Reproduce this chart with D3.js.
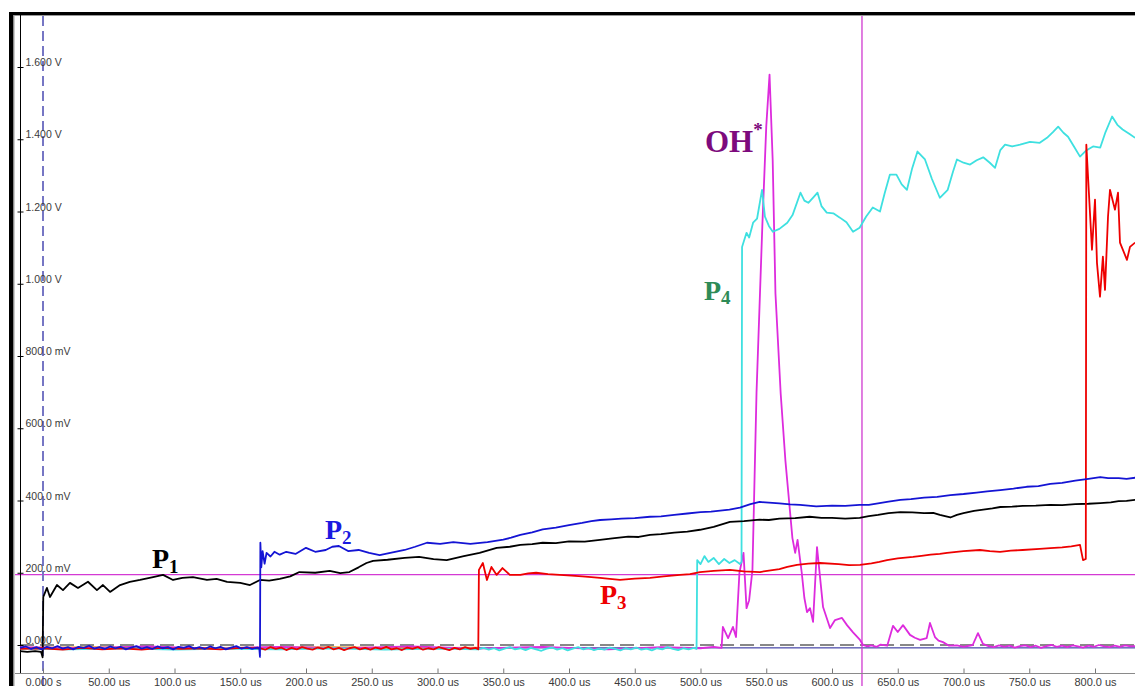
<!DOCTYPE html>
<html>
<head>
<meta charset="utf-8">
<script src="https://cdn.jsdelivr.net/npm/d3@7"></script>
<style>
    body { margin: 0; background: #fff; }
    svg { display: block; }
    .tick text { font-family: "Liberation Sans", Arial, sans-serif; fill: #3a3a3a; }
    .lbl { font-family: "Liberation Serif", "Times New Roman", serif; font-weight: bold; }
</style>
</head>
<body>
<svg id="chart" width="1135" height="686"></svg>
<script>
// time in us, signal in mV
var yTicks = [0, 200, 400, 600, 800, 1000, 1200, 1400, 1600];
var yTickLabels = ["0.000 V", "200.0 mV", "400.0 mV", "600.0 mV", "800.0 mV", "1.000 V", "1.200 V", "1.400 V", "1.600 V"];
var xTicks = [0, 50, 100, 150, 200, 250, 300, 350, 400, 450, 500, 550, 600, 650, 700, 750, 800];
var xTickLabels = ["0.000 s", "50.00 us", "100.0 us", "150.0 us", "200.0 us", "250.0 us", "300.0 us", "350.0 us",
    "400.0 us", "450.0 us", "500.0 us", "550.0 us", "600.0 us", "650.0 us", "700.0 us", "750.0 us", "800.0 us"];

var triggerLevel = 195;   // mV, magenta horizontal
var cursorTime = 622.8;   // us, magenta vertical
var zeroMarker = -8;      // mV, navy channel marker
var zeroLevel = 0;        // mV, dashed

var p1 = [[-17.5,-17],[-12,-19],[-6,-17],[-1.5,-19],[-0.3,-34],[0.2,133],[3,158],[5.3,133],[10.6,166],[15.2,152],
    [20.5,172],[26.6,158],[34.2,175],[41,152],[45.6,166],[51,147],[58.6,166],[66,175],[73.8,180],[83.7,188],
    [91.3,194],[98.9,180],[106,186],[114,188],[124.7,180],[132,183],[140,175],[150,172],[157.4,166],[165,180],
    [172,178],[180,183],[188,190],[195,202],[207,200],[218,205],[226,199],[233,202],[240,215],[246,227],
    [251,233],[262,236],[275,241],[286,244],[297,238],[307,235],[320,246],[332,255],[345,269],[355,272],[363,277],
    [372,279],[380,283],[390,282],[400,287],[412,286],[423.6,291],[433,295],[445,300],[453,299],[461.6,305],
    [470,307],[480,311],[490,314],[499.6,319],[510,327],[522.4,341],[533,343],[545,347],[552,346],[560,350],
    [572,351],[583,355],[592,352],[600,352],[610,350],[621,352],[628,357],[635,360],[643,365],[652,368],
    [661,367],[670,365],[677,366],[682,360],[690,353],[695,360],[700,365],[708,371],[715,375],[722,378],
    [728,382],[737,383],[745,385],[755,386],[766,388],[775,387],[785,390],[795,391],[804,393],[812,395],
    [818,398],[824,399],[830.5,402]];

var p2 = [[-17.5,-8],[-13,-4],[-9,-11],[-5,-6],[-1,-12],[3,-5],[7,-9],[11,-3],[15,-10],[19,-6],[23,-12],[27,-5],
    [31,-8],[35,-2],[39,-10],[43,-6],[47,-11],[51,-4],[55,-9],[59,-5],[63,-12],[67,-7],[71,-3],[75,-10],[79,-6],
    [83,-11],[87,-4],[91,-9],[95,-6],[99,-12],[103,-5],[107,-8],[111,-3],[115,-10],[119,-6],[123,-11],[127,-4],
    [131,-9],[135,-5],[139,-12],[143,-7],[147,-3],[151,-10],[155,-6],[159,-11],[163,-7],[164.5,-10],
    [165,-33],[165.3,283],[166,215],[167,260],[168.5,225],[170,255],[173,245],[176,258],[180,250],[185,258],
    [192,252],[200,269],[207,258],[215,263],[220,272],[225,274],[232,260],[240,263],[248,255],[256,249],
    [265,256],[275,263],[283,272],[292,283],[302,280],[312,285],[325,280],[338,285],[350,292],[356,297],
    [363,305],[372,312],[380,320],[390,325],[400,332],[410,338],[417,343],[423.6,346],[432,348],[440,350],
    [450,351],[461.6,355],[470,356],[480,360],[490,364],[500,368],[508,369],[515,372],[522,375],[530,380],
    [538,390],[545,396],[552,394],[560,392],[568,389],[575.7,388],[588,384],[600,386],[610,385],[621,388],
    [628,388],[635,392],[643,397],[652,402],[660,404],[670,408],[680,410],[690,415],[700,418],[710,422],
    [718,425],[728,429],[738,433],[748,438],[757,440],[766,446],[775,449],[785,455],[795,460],[804,465],
    [810,462],[818,462],[824,460],[830.5,463]];

var p3 = [[-17.5,-11],[0,-9],[15,-13],[30,-8],[45,-12],[60,-9],[75,-13],[90,-8],[105,-11],[120,-9],[135,-12],
    [150,-8],[165,-9],[169,-13],[173,-6],[177,-11],[181,-7],[185,-14],[189,-8],[193,-12],[197,-6],[201,-10],
    [205,-13],[209,-7],[213,-11],[217,-5],[221,-12],[225,-8],[229,-14],[233,-9],[237,-6],[241,-12],[245,-8],
    [249,-13],[253,-7],[257,-11],[261,-5],[265,-12],[269,-9],[273,-14],[277,-7],[281,-11],[285,-6],[289,-13],
    [293,-9],[297,-12],[301,-6],[305,-10],[309,-14],[313,-8],[317,-12],[321,-6],[325,-11],[329,-8],[331,-12],
    [331.5,208],[334.5,227],[337.6,180],[341,216],[345,194],[349.4,213],[355,194],[363,194],[369,198],[375,200],
    [384,196],[393,194],[402,192],[410,190],[417,188],[423.6,186],[431,183],[438.8,180],[450,184],[461.6,186],
    [472,190],[484.4,194],[492,196],[499.6,202],[510,205],[522.4,208],[533,204],[545.2,202],[552,206],[560,210],
    [566,216],[573.4,222],[582,225],[590.9,227],[605,224],[613,221],[621.3,222],[630,226],[636,230],[641.8,235],
    [650,240],[661.6,244],[668,247],[675,250],[682,252],[687.5,255],[700,260],[712.5,263],[720,260],[727.8,258],
    [736,261],[745,263],[758,266],[766,268],[775,270],[782,273],[788.6,277],[790.9,235],[793,238],[793.4,1385],
    [794.7,1296],[797.7,1094],[800,1233],[801.5,1058],[803.8,964],[806,1075],[807.6,983],[809.9,1186],
    [811.4,1260],[815.2,1205],[817.5,1252],[819,1114],[824.3,1066],[826.6,1102],[830.5,1114]];

var p4 = [[-17.5,-10],[20,-12],[60,-9],[100,-13],[140,-10],[180,-12],[220,-9],[260,-13],[300,-10],[331,-12],
    [335,-8],[339,-13],[343,-9],[347,-15],[351,-10],[355,-6],[359,-12],[363,-9],[367,-14],[371,-8],[375,-12],
    [379,-16],[383,-10],[387,-7],[391,-13],[395,-9],[399,-15],[403,-10],[407,-6],[411,-12],[415,-8],[419,-14],
    [423,-10],[427,-13],[431,-7],[435,-11],[439,-15],[443,-9],[447,-12],[451,-7],[455,-13],[459,-10],[463,-15],
    [467,-9],[471,-12],[475,-6],[479,-11],[483,-14],[487,-9],[491,-12],[495,-8],[497,-11],
    [497.5,235],[500,224],[503,246],[506,230],[510,241],[514,224],[518,238],[522,227],[526,235],
    [530,224],[531.2,230],[531.6,1102],[535,1141],[537,1128],[540,1169],[543,1180],[546.8,1260],[549,1186],
    [552,1160],[555,1144],[560,1152],[566,1169],[570,1190],[576,1252],[579,1230],[582,1224],[586,1240],
    [589,1252],[592,1215],[596,1197],[601,1195],[606,1183],[611,1170],[616,1144],[621,1155],[626,1186],
    [631,1211],[636.5,1200],[640,1250],[644,1302],[649,1302],[653,1275],[657,1260],[661,1320],[665,1366],
    [670.7,1344],[676,1290],[682,1238],[688,1260],[692,1310],[695,1344],[700,1335],[705,1330],[710,1342],
    [715,1350],[720,1335],[724,1321],[728,1370],[731.6,1385],[737,1380],[743,1385],[750.6,1393],[758,1390],
    [763.5,1404],[768,1420],[772,1435],[776,1418],[779.5,1407],[784,1380],[788.6,1352],[793,1368],[798.5,1380],
    [804,1377],[808,1420],[813,1463],[817,1440],[821,1427],[826,1415],[830.5,1404]];

var oh = [[-17.5,-6],[30,-9],[80,-4],[130,-10],[180,-5],[230,-9],[280,-4],[330,-10],[380,-5],[430,-12],
    [470,-6],[500,-9],[510,-5],[516,-8],[517,50],[521,19],[524.7,50],[527,22],[529.6,200],[532.7,255],
    [535,102],[537,124],[539.5,208],[542.6,698],[547,1158],[550,1435],[552.5,1579],[554.9,1341],[557,973],
    [561,695],[564.6,509],[569.9,296],[572,255],[573.8,291],[577,200],[579,130],[581,91],[583.3,102],
    [585.6,64],[588.6,271],[593.2,105],[598.5,47],[602.3,69],[607.6,75],[611.4,55],[616,35],[621.3,14],
    [623.6,0],[627,-4],[630,-1],[634,-5],[637,1],[642,-2],[646.4,53],[650,36],[654,55],[659.3,28],[663,20],
    [667,14],[672,19],[674.5,61],[678.3,22],[681,12],[684.4,8],[689,-2],[695,-1],[700,-5],[707,0],[711,33],
    [714.8,3],[719,-3],[723,-6],[727,-1],[731,-5],[735,-2],[739,-7],[743,-3],[747,-1],[751,-6],[755,-2],
    [759,-8],[763,-3],[767,0],[771,-5],[775,-2],[779,-6],[783,-1],[787,-4],[791,-7],[795,-2],[799,-5],
    [803,0],[807,-4],[811,-6],[815,-2],[819,-5],[823,-1],[827,-4],[830.5,-3]];

var aux = [[-17.5,-8],[40,-6],[100,-9],[160,-7],[220,-6],[280,-9],[330,-7]];

var channels = [
    {data: aux, color: "#f0a020"},
    {data: oh, color: "#dd2bdd"},
    {data: p4, color: "#3ee0e0"},
    {data: p1, color: "#000000"},
    {data: p3, color: "#ee0000"},
    {data: p2, color: "#1414d4"}
];

var svg = d3.select("#chart");
var x = d3.scaleLinear().domain([0, 800]).range([43, 1095]);
var y = d3.scaleLinear().domain([0, 1600]).range([645, 67]);

// frame of the scope window
svg.append("rect").attr("x", 9).attr("y", 12).attr("width", 1126).attr("height", 3).attr("fill", "#000");
svg.append("rect").attr("x", 9).attr("y", 12).attr("width", 4.5).attr("height", 674).attr("fill", "#000");
svg.append("line").attr("x1", 14).attr("x2", 1135).attr("y1", 15.5).attr("y2", 15.5).attr("stroke", "#999");
svg.append("line").attr("x1", 14).attr("x2", 14).attr("y1", 15).attr("y2", 686).attr("stroke", "#999");

svg.append("defs").append("clipPath").attr("id", "plot")
    .append("rect").attr("x", 15).attr("y", 16).attr("width", 1120).attr("height", 657);

// reference lines
var refs = svg.append("g");
refs.append("line")
    .attr("x1", 20).attr("x2", 1135).attr("y1", y(zeroMarker)).attr("y2", y(zeroMarker))
    .attr("stroke", "#1e1e96").attr("stroke-width", 1);
refs.append("line")
    .attr("x1", 20).attr("x2", 1135).attr("y1", y(zeroLevel)).attr("y2", y(zeroLevel))
    .attr("stroke", "#111").attr("stroke-width", 1).attr("stroke-dasharray", "14,6");
refs.append("line")
    .attr("x1", 15).attr("x2", 1135).attr("y1", y(triggerLevel)).attr("y2", y(triggerLevel))
    .attr("stroke", "#d43ad4").attr("stroke-width", 1.2);
refs.append("line")
    .attr("x1", x(0)).attr("x2", x(0)).attr("y1", 16).attr("y2", 686)
    .attr("stroke", "#7676c4").attr("stroke-width", 2).attr("stroke-dasharray", "10,5");
refs.append("line")
    .attr("x1", x(cursorTime)).attr("x2", x(cursorTime)).attr("y1", 16).attr("y2", 686)
    .attr("stroke", "#d03ad0").attr("stroke-width", 1.3);

// axes
var yAxis = d3.axisRight(y).tickValues(yTicks).tickSize(3)
    .tickFormat(function (d, i) { return yTickLabels[i]; });
var gy = svg.append("g").attr("transform", "translate(20.5,0)").call(yAxis);
gy.select(".domain").remove();
gy.selectAll(".tick line").attr("x1", -3).attr("stroke", "#000");
gy.selectAll(".tick text").attr("x", 5).attr("dy", -1.5).attr("font-size", 10.5);
svg.append("line").attr("x1", 20.5).attr("x2", 20.5).attr("y1", 15).attr("y2", 673)
    .attr("stroke", "#000").attr("stroke-width", 1);

var xAxis = d3.axisBottom(x).tickValues(xTicks).tickSize(-5)
    .tickFormat(function (d, i) { return xTickLabels[i]; });
var gx = svg.append("g").attr("transform", "translate(0,673.5)").call(xAxis);
gx.select(".domain").remove();
gx.selectAll(".tick line").attr("stroke", "#777");
gx.selectAll(".tick text").attr("y", 12).attr("dy", 0).attr("font-size", 11);
svg.append("line").attr("x1", 15).attr("x2", 1135).attr("y1", 673.5).attr("y2", 673.5)
    .attr("stroke", "#8a8a8a").attr("stroke-width", 1);

// traces
var line = d3.line()
    .x(function (d) { return x(d[0]); })
    .y(function (d) { return y(d[1]); });
var traces = svg.append("g").attr("clip-path", "url(#plot)");
channels.forEach(function (c) {
    traces.append("path")
        .datum(c.data)
        .attr("d", line)
        .attr("fill", "none")
        .attr("stroke", c.color)
        .attr("stroke-width", 1.8)
        .attr("stroke-linejoin", "round");
});

// labels
function subLabel(px, py, main, sub, color, size, subDy) {
    var t = svg.append("text").attr("class", "lbl")
        .attr("x", px).attr("y", py).attr("fill", color).attr("font-size", size);
    t.append("tspan").text(main);
    t.append("tspan").attr("font-size", 19).attr("dy", subDy).text(sub);
}
subLabel(152, 568, "P", "1", "#000000", 28, 5);
subLabel(325, 539, "P", "2", "#1a1ae0", 28, 5);
subLabel(600, 604, "P", "3", "#ee0000", 28, 5);
subLabel(704, 300, "P", "4", "#2e8b57", 28, 4);
subLabel(705, 152, "OH", "*", "#7d0a7d", 31, -16);
</script>
</body>
</html>
